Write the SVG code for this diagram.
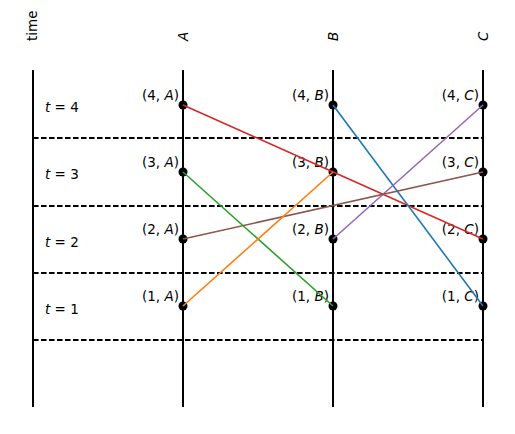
<svg xmlns="http://www.w3.org/2000/svg" width="515" height="434" viewBox="0 0 515 434">
<style>
text{font-family:"DejaVu Sans",sans-serif;font-size:13.5px;fill:#000}
.lbl{text-anchor:end}
.axis{stroke:#000;stroke-width:2;fill:none}
.dash{stroke:#000;stroke-width:1.8;stroke-dasharray:5.6 2.4;fill:none}
.edge{stroke-width:1.6;fill:none}
.dot{fill:#000}
</style>
<rect width="515" height="434" fill="#fff"/>
<g id="headers">
<text transform="translate(37,41) rotate(-90)">time</text>
<text transform="translate(188,41) rotate(-90)" font-style="italic">A</text>
<text transform="translate(338,41) rotate(-90)" font-style="italic">B</text>
<text transform="translate(488,41) rotate(-90)" font-style="italic">C</text>
</g>
<g id="grid">
<line class="axis" x1="33" y1="70" x2="33" y2="407"/>
<line class="axis" x1="183" y1="70" x2="183" y2="407"/>
<line class="axis" x1="333" y1="70" x2="333" y2="407"/>
<line class="axis" x1="483" y1="70" x2="483" y2="407"/>
<line class="dash" x1="33" y1="138" x2="483" y2="138"/>
<line class="dash" x1="33" y1="206" x2="483" y2="206"/>
<line class="dash" x1="33" y1="273" x2="483" y2="273"/>
<line class="dash" x1="33" y1="340" x2="483" y2="340"/>
</g>
<g id="time-labels">
<text x="45" y="112"><tspan font-style="italic">t</tspan> = 4</text>
<text x="45" y="179"><tspan font-style="italic">t</tspan> = 3</text>
<text x="45" y="247"><tspan font-style="italic">t</tspan> = 2</text>
<text x="45" y="314"><tspan font-style="italic">t</tspan> = 1</text>
</g>
<g id="nodes">
<g id="n4A"><circle class="dot" cx="183" cy="105" r="4.5"/><text class="lbl" x="179" y="100">(4, <tspan font-style="italic">A</tspan>)</text></g>
<g id="n3A"><circle class="dot" cx="183" cy="172" r="4.5"/><text class="lbl" x="179" y="167">(3, <tspan font-style="italic">A</tspan>)</text></g>
<g id="n2A"><circle class="dot" cx="183" cy="239" r="4.5"/><text class="lbl" x="179" y="234">(2, <tspan font-style="italic">A</tspan>)</text></g>
<g id="n1A"><circle class="dot" cx="183" cy="306" r="4.5"/><text class="lbl" x="179" y="301">(1, <tspan font-style="italic">A</tspan>)</text></g>
<g id="n4B"><circle class="dot" cx="333" cy="105" r="4.5"/><text class="lbl" x="329" y="100">(4, <tspan font-style="italic">B</tspan>)</text></g>
<g id="n3B"><circle class="dot" cx="333" cy="172" r="4.5"/><text class="lbl" x="329" y="167">(3, <tspan font-style="italic">B</tspan>)</text></g>
<g id="n2B"><circle class="dot" cx="333" cy="239" r="4.5"/><text class="lbl" x="329" y="234">(2, <tspan font-style="italic">B</tspan>)</text></g>
<g id="n1B"><circle class="dot" cx="333" cy="306" r="4.5"/><text class="lbl" x="329" y="301">(1, <tspan font-style="italic">B</tspan>)</text></g>
<g id="n4C"><circle class="dot" cx="483" cy="105" r="4.5"/><text class="lbl" x="479" y="100">(4, <tspan font-style="italic">C</tspan>)</text></g>
<g id="n3C"><circle class="dot" cx="483" cy="172" r="4.5"/><text class="lbl" x="479" y="167">(3, <tspan font-style="italic">C</tspan>)</text></g>
<g id="n2C"><circle class="dot" cx="483" cy="239" r="4.5"/><text class="lbl" x="479" y="234">(2, <tspan font-style="italic">C</tspan>)</text></g>
<g id="n1C"><circle class="dot" cx="483" cy="306" r="4.5"/><text class="lbl" x="479" y="301">(1, <tspan font-style="italic">C</tspan>)</text></g>
</g>
<g id="connectors">
<line class="edge" stroke="#d62728" x1="183" y1="105" x2="483" y2="239"/>
<line class="edge" stroke="#1f77b4" x1="333" y1="105" x2="483" y2="306"/>
<line class="edge" stroke="#9467bd" x1="333" y1="239" x2="483" y2="105"/>
<line class="edge" stroke="#8c564b" x1="183" y1="239" x2="483" y2="172"/>
<line class="edge" stroke="#2ca02c" x1="183" y1="172" x2="333" y2="306"/>
<line class="edge" stroke="#ff7f0e" x1="183" y1="306" x2="333" y2="172"/>
</g>
</svg>
